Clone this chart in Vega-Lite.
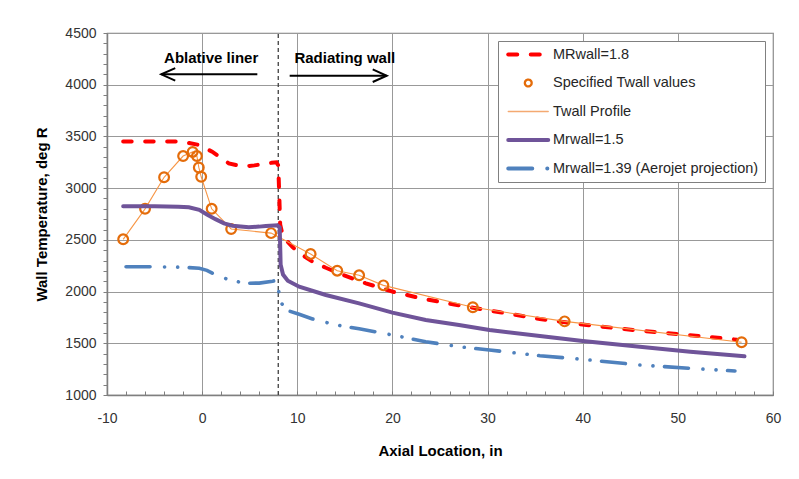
{
  "$schema": "https://vega.github.io/schema/vega-lite/v6.json",
  "autosize": "none",
  "width": 666,
  "height": 362,
  "padding": {"left": 107, "top": 33, "right": 26, "bottom": 84},
  "background": "white",
  "config": {
    "view": {"stroke": "#808080", "strokeWidth": 1.2},
    "font": "Liberation Sans",
    "axis": {
      "labelFont": "Liberation Sans",
      "labelFontSize": 14,
      "labelColor": "#333333",
      "titleFont": "Liberation Sans",
      "titleFontSize": 15,
      "titleFontWeight": "bold",
      "titleColor": "#000000",
      "gridColor": "#999999",
      "gridWidth": 1,
      "domainColor": "#7f7f7f",
      "domainWidth": 1.5,
      "tickColor": "#7f7f7f",
      "tickWidth": 1
    }
  },
  "datasets": {
    "curves": [
      {"series": "MRwall=1.8", "axial": -8.3, "temp": 3450},
      {"series": "MRwall=1.8", "axial": -5, "temp": 3450},
      {"series": "MRwall=1.8", "axial": -2.5, "temp": 3450},
      {"series": "MRwall=1.8", "axial": -1.8, "temp": 3445},
      {"series": "MRwall=1.8", "axial": -0.3, "temp": 3417},
      {"series": "MRwall=1.8", "axial": 1.05, "temp": 3352},
      {"series": "MRwall=1.8", "axial": 2.0, "temp": 3290},
      {"series": "MRwall=1.8", "axial": 2.8, "temp": 3240},
      {"series": "MRwall=1.8", "axial": 3.6, "temp": 3222},
      {"series": "MRwall=1.8", "axial": 4.6, "temp": 3212},
      {"series": "MRwall=1.8", "axial": 5.5, "temp": 3220},
      {"series": "MRwall=1.8", "axial": 6.5, "temp": 3235},
      {"series": "MRwall=1.8", "axial": 7.3, "temp": 3245},
      {"series": "MRwall=1.8", "axial": 7.8, "temp": 3250},
      {"series": "MRwall=1.8", "axial": 8.0, "temp": 3220},
      {"series": "MRwall=1.8", "axial": 8.1, "temp": 2950},
      {"series": "MRwall=1.8", "axial": 8.2, "temp": 2650},
      {"series": "MRwall=1.8", "axial": 8.5, "temp": 2530},
      {"series": "MRwall=1.8", "axial": 9.5, "temp": 2430},
      {"series": "MRwall=1.8", "axial": 10.5, "temp": 2355},
      {"series": "MRwall=1.8", "axial": 11.6, "temp": 2290},
      {"series": "MRwall=1.8", "axial": 13, "temp": 2230},
      {"series": "MRwall=1.8", "axial": 14.4, "temp": 2176},
      {"series": "MRwall=1.8", "axial": 16, "temp": 2120},
      {"series": "MRwall=1.8", "axial": 17.2, "temp": 2080},
      {"series": "MRwall=1.8", "axial": 20, "temp": 2000},
      {"series": "MRwall=1.8", "axial": 23, "temp": 1935},
      {"series": "MRwall=1.8", "axial": 26.5, "temp": 1875},
      {"series": "MRwall=1.8", "axial": 31.3, "temp": 1800},
      {"series": "MRwall=1.8", "axial": 35.5, "temp": 1735},
      {"series": "MRwall=1.8", "axial": 40.4, "temp": 1677},
      {"series": "MRwall=1.8", "axial": 45.3, "temp": 1628},
      {"series": "MRwall=1.8", "axial": 50.2, "temp": 1588},
      {"series": "MRwall=1.8", "axial": 56.2, "temp": 1535},
      {"series": "Specified Twall values", "axial": -8.3, "temp": 2505},
      {"series": "Specified Twall values", "axial": -6.0, "temp": 2800},
      {"series": "Specified Twall values", "axial": -4.0, "temp": 3105},
      {"series": "Specified Twall values", "axial": -2.0, "temp": 3310},
      {"series": "Specified Twall values", "axial": -1.0, "temp": 3350},
      {"series": "Specified Twall values", "axial": -0.55, "temp": 3310},
      {"series": "Specified Twall values", "axial": -0.35, "temp": 3200},
      {"series": "Specified Twall values", "axial": -0.1, "temp": 3110},
      {"series": "Specified Twall values", "axial": 1.0, "temp": 2800},
      {"series": "Specified Twall values", "axial": 3.05, "temp": 2605},
      {"series": "Specified Twall values", "axial": 7.25, "temp": 2565},
      {"series": "Specified Twall values", "axial": 11.4, "temp": 2363},
      {"series": "Specified Twall values", "axial": 14.2, "temp": 2202},
      {"series": "Specified Twall values", "axial": 16.5, "temp": 2157},
      {"series": "Specified Twall values", "axial": 19.05, "temp": 2060},
      {"series": "Specified Twall values", "axial": 28.45, "temp": 1848},
      {"series": "Specified Twall values", "axial": 38.1, "temp": 1712},
      {"series": "Specified Twall values", "axial": 56.7, "temp": 1510},
      {"series": "Mrwall=1.5", "axial": -8.3, "temp": 2825},
      {"series": "Mrwall=1.5", "axial": -5, "temp": 2825},
      {"series": "Mrwall=1.5", "axial": -2.5, "temp": 2820},
      {"series": "Mrwall=1.5", "axial": -1.4, "temp": 2815},
      {"series": "Mrwall=1.5", "axial": -0.3, "temp": 2790},
      {"series": "Mrwall=1.5", "axial": 0.5, "temp": 2745},
      {"series": "Mrwall=1.5", "axial": 1.4, "temp": 2700},
      {"series": "Mrwall=1.5", "axial": 2.3, "temp": 2660},
      {"series": "Mrwall=1.5", "axial": 3.2, "temp": 2637},
      {"series": "Mrwall=1.5", "axial": 4.9, "temp": 2621},
      {"series": "Mrwall=1.5", "axial": 6.0, "temp": 2628},
      {"series": "Mrwall=1.5", "axial": 6.7, "temp": 2634},
      {"series": "Mrwall=1.5", "axial": 7.9, "temp": 2640},
      {"series": "Mrwall=1.5", "axial": 8.15, "temp": 2620},
      {"series": "Mrwall=1.5", "axial": 8.2, "temp": 2450},
      {"series": "Mrwall=1.5", "axial": 8.25, "temp": 2260},
      {"series": "Mrwall=1.5", "axial": 8.5, "temp": 2165},
      {"series": "Mrwall=1.5", "axial": 9.0, "temp": 2105},
      {"series": "Mrwall=1.5", "axial": 10.2, "temp": 2047},
      {"series": "Mrwall=1.5", "axial": 13, "temp": 1967},
      {"series": "Mrwall=1.5", "axial": 16.5, "temp": 1886},
      {"series": "Mrwall=1.5", "axial": 20, "temp": 1796},
      {"series": "Mrwall=1.5", "axial": 23.5, "temp": 1725},
      {"series": "Mrwall=1.5", "axial": 27, "temp": 1677},
      {"series": "Mrwall=1.5", "axial": 30.2, "temp": 1628},
      {"series": "Mrwall=1.5", "axial": 35.5, "temp": 1570},
      {"series": "Mrwall=1.5", "axial": 40, "temp": 1522},
      {"series": "Mrwall=1.5", "axial": 46, "temp": 1467},
      {"series": "Mrwall=1.5", "axial": 51.3, "temp": 1419},
      {"series": "Mrwall=1.5", "axial": 57, "temp": 1375},
      {"series": "Mrwall=1.39 (Aerojet projection)", "axial": -8.0, "temp": 2240},
      {"series": "Mrwall=1.39 (Aerojet projection)", "axial": -5, "temp": 2240},
      {"series": "Mrwall=1.39 (Aerojet projection)", "axial": -2, "temp": 2235},
      {"series": "Mrwall=1.39 (Aerojet projection)", "axial": -0.3, "temp": 2225},
      {"series": "Mrwall=1.39 (Aerojet projection)", "axial": 0.5, "temp": 2205},
      {"series": "Mrwall=1.39 (Aerojet projection)", "axial": 1.1, "temp": 2177},
      {"series": "Mrwall=1.39 (Aerojet projection)", "axial": 2.5, "temp": 2125},
      {"series": "Mrwall=1.39 (Aerojet projection)", "axial": 4.4, "temp": 2080},
      {"series": "Mrwall=1.39 (Aerojet projection)", "axial": 6.0, "temp": 2082},
      {"series": "Mrwall=1.39 (Aerojet projection)", "axial": 7.4, "temp": 2100},
      {"series": "Mrwall=1.39 (Aerojet projection)", "axial": 7.8, "temp": 2110},
      {"series": "Mrwall=1.39 (Aerojet projection)", "axial": 8.0, "temp": 2060},
      {"series": "Mrwall=1.39 (Aerojet projection)", "axial": 8.1, "temp": 1950},
      {"series": "Mrwall=1.39 (Aerojet projection)", "axial": 8.4, "temp": 1880},
      {"series": "Mrwall=1.39 (Aerojet projection)", "axial": 8.8, "temp": 1822},
      {"series": "Mrwall=1.39 (Aerojet projection)", "axial": 10.2, "temp": 1780},
      {"series": "Mrwall=1.39 (Aerojet projection)", "axial": 11.6, "temp": 1735},
      {"series": "Mrwall=1.39 (Aerojet projection)", "axial": 14.1, "temp": 1677},
      {"series": "Mrwall=1.39 (Aerojet projection)", "axial": 16.5, "temp": 1640},
      {"series": "Mrwall=1.39 (Aerojet projection)", "axial": 20, "temp": 1580},
      {"series": "Mrwall=1.39 (Aerojet projection)", "axial": 23.5, "temp": 1515},
      {"series": "Mrwall=1.39 (Aerojet projection)", "axial": 27, "temp": 1467},
      {"series": "Mrwall=1.39 (Aerojet projection)", "axial": 30.2, "temp": 1435},
      {"series": "Mrwall=1.39 (Aerojet projection)", "axial": 35.5, "temp": 1380},
      {"series": "Mrwall=1.39 (Aerojet projection)", "axial": 40, "temp": 1345},
      {"series": "Mrwall=1.39 (Aerojet projection)", "axial": 46, "temp": 1290},
      {"series": "Mrwall=1.39 (Aerojet projection)", "axial": 51.3, "temp": 1258},
      {"series": "Mrwall=1.39 (Aerojet projection)", "axial": 56, "temp": 1232}
    ],
    "separator": [{"axial": 8, "temp": 1000, "temp2": 4500}],
    "notes": [
      {"label": "Ablative liner", "axial": 0.95, "temp": 4255},
      {"label": "Radiating wall", "axial": 15.0, "temp": 4255}
    ],
    "arrows": [
      {"axial": 5.8, "axial2": -4.3, "temp": 4100, "dir": "left"},
      {"axial": 9.2, "axial2": 19.4, "temp": 4087, "dir": "right"}
    ]
  },
  "encoding": {
    "x": {
      "field": "axial",
      "type": "quantitative",
      "scale": {"domain": [-10, 60], "nice": false, "zero": false},
      "axis": {
        "title": "Axial Location,  in",
        "values": [-10,-8,-6,-4,-2,0,2,4,6,8,10,12,14,16,18,20,22,24,26,28,30,32,34,36,38,40,42,44,46,48,50,52,54,56,58,60],
        "labelExpr": "datum.value % 10 === 0 ? '' + datum.value : ''",
        "labelOverlap": false,
        "labelFlush": false,
        "gridOpacity": {"condition": {"test": "datum.value % 10 === 0", "value": 1}, "value": 0},
        "tickSize": -4,
        "labelPadding": 20,
        "titlePadding": 18
      }
    },
    "y": {
      "field": "temp",
      "type": "quantitative",
      "scale": {"domain": [1000, 4500], "nice": false, "zero": false},
      "axis": {
        "title": "Wall Temperature,  deg R",
        "values": [1000,1100,1200,1300,1400,1500,1600,1700,1800,1900,2000,2100,2200,2300,2400,2500,2600,2700,2800,2900,3000,3100,3200,3300,3400,3500,3600,3700,3800,3900,4000,4100,4200,4300,4400,4500],
        "labelExpr": "datum.value % 500 === 0 ? '' + datum.value : ''",
        "labelOverlap": false,
        "labelFlush": false,
        "gridOpacity": {"condition": {"test": "datum.value % 500 === 0", "value": 1}, "value": 0},
        "tickSize": 4,
        "labelPadding": 7,
        "titlePadding": 15
      }
    }
  },
  "layer": [
    {
      "data": {"name": "separator"},
      "mark": {"type": "rule", "color": "#404040", "strokeWidth": 1.3, "strokeDash": [4, 3]},
      "encoding": {"y2": {"field": "temp2"}}
    },
    {
      "data": {"name": "curves"},
      "transform": [{"filter": "datum.series === 'MRwall=1.8'"}],
      "mark": {"type": "line", "strokeWidth": 4, "strokeDash": [8.5, 13.5], "strokeCap": "round"},
      "encoding": {
        "color": {
          "field": "series",
          "type": "nominal",
          "scale": {
            "domain": ["MRwall=1.8", "Specified Twall values", "Twall Profile", "Mrwall=1.5", "Mrwall=1.39 (Aerojet projection)"],
            "range": ["#FF0000", "#E46C0A", "#F4A971", "#6F5499", "#4F81BD"]
          },
          "legend": {
            "title": null,
            "orient": "top-right",
            "offset": 8,
            "padding": 6,
            "fillColor": "white",
            "strokeColor": "#808080",
            "cornerRadius": 0,
            "symbolType": "stroke",
            "symbolSize": 1600,
            "symbolStrokeWidth": 4,
            "clipHeight": 15,
            "rowPadding": 12.5,
            "symbolOffset": 17,
            "labelOffset": 17.5,
            "labelFont": "Liberation Sans",
            "labelFontSize": 14.5,
            "labelColor": "#262626",
            "labelLimit": 400,
            "encode": {
              "symbols": {
                "update": {
                  "shape": {"signal": "datum.value === 'Specified Twall values' ? 'M0.17,0A0.17,0.17,0,1,1,-0.17,0A0.17,0.17,0,1,1,0.17,0Z' : 'stroke'"},
                  "stroke": {"signal": "datum.value === 'MRwall=1.8' ? '#FF0000' : datum.value === 'Specified Twall values' ? '#E46C0A' : datum.value === 'Twall Profile' ? '#F4A971' : datum.value === 'Mrwall=1.5' ? '#6F5499' : '#4F81BD'"},
                  "strokeWidth": {"signal": "datum.value === 'Twall Profile' ? 1.3 : datum.value === 'Specified Twall values' ? 2.3 : 4"},
                  "strokeDash": {"signal": "datum.value === 'MRwall=1.8' ? [9, 13.5] : datum.value === 'Mrwall=1.39 (Aerojet projection)' ? [24, 15, 0.1, 40] : [1, 0]"},
                  "strokeCap": {"value": "round"},
                  "fill": {"value": "transparent"},
                  "opacity": {"value": 1}
                }
              }
            }
          }
        }
      }
    },
    {
      "data": {"name": "curves"},
      "transform": [{"filter": "datum.series === 'Specified Twall values'"}],
      "mark": {"type": "line", "stroke": "#F79646", "strokeWidth": 1.1}
    },
    {
      "data": {"name": "curves"},
      "transform": [{"filter": "datum.series === 'Specified Twall values'"}],
      "mark": {"type": "point", "filled": false, "stroke": "#E46C0A", "strokeWidth": 2.2, "size": 95, "opacity": 1}
    },
    {
      "data": {"name": "curves"},
      "transform": [{"filter": "datum.series === 'Mrwall=1.5'"}],
      "mark": {"type": "line", "strokeWidth": 4, "strokeCap": "round"},
      "encoding": {"color": {"field": "series", "type": "nominal", "legend": null}}
    },
    {
      "data": {"name": "curves"},
      "transform": [{"filter": "datum.series === 'Mrwall=1.39 (Aerojet projection)'"}],
      "mark": {"type": "line", "strokeWidth": 3.6, "strokeDash": [24, 14.5, 0.1, 13, 0.1, 11.5], "strokeCap": "round"},
      "encoding": {"color": {"field": "series", "type": "nominal", "legend": null}}
    },
    {
      "data": {"name": "arrows"},
      "mark": {"type": "rule", "color": "#000000", "strokeWidth": 2},
      "encoding": {"x2": {"field": "axial2"}}
    },
    {
      "data": {"name": "arrows"},
      "mark": {"type": "point", "filled": false, "stroke": "#000000", "strokeWidth": 2, "size": 196, "opacity": 1},
      "encoding": {
        "x": {"field": "axial2", "type": "quantitative"},
        "shape": {
          "field": "dir",
          "type": "nominal",
          "scale": {"domain": ["left", "right"], "range": ["M2,-0.9L0,0L2,0.9", "M-2,-0.9L0,0L-2,0.9"]},
          "legend": null
        }
      }
    },
    {
      "data": {"name": "notes"},
      "mark": {"type": "text", "font": "Liberation Sans", "fontSize": 15, "fontWeight": "bold", "color": "#000000", "align": "center", "baseline": "middle"},
      "encoding": {"text": {"field": "label"}}
    }
  ]
}
